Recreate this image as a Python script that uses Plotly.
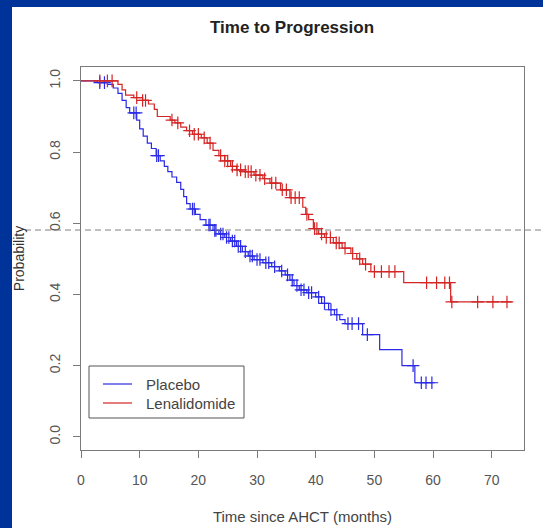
import plotly.graph_objects as go

# ---- data (months, survival probability) ----
len_time = [0, 6.3, 7.0, 7.6, 9.0, 10.5, 11.5, 12.5, 13.0, 15.2, 16.0, 17.0, 18.0, 19.0,
            20.5, 21.5, 22.5, 23.5, 24.5, 25.5, 26.5, 28.0, 29.5, 31.0, 32.2, 34.0, 35.6,
            37.8, 38.3, 38.8, 39.6, 40.5, 41.5, 43.0, 44.5, 46.0, 47.0, 48.0, 49.4, 55.0,
            63.0, 73.4]
len_surv = [1.0, 0.99, 0.975, 0.96, 0.953, 0.945, 0.935, 0.92, 0.90, 0.89, 0.882, 0.87, 0.86,
            0.85, 0.84, 0.825, 0.805, 0.79, 0.775, 0.76, 0.75, 0.745, 0.735, 0.725, 0.713,
            0.694, 0.672, 0.645, 0.625, 0.61, 0.585, 0.57, 0.56, 0.545, 0.53, 0.515, 0.50,
            0.485, 0.464, 0.433, 0.379, 0.379]
len_cens_time = [3.2, 4.5, 5.3, 9.5, 10.5, 11.0, 15.5, 16.5, 18.5, 19.3, 20.0, 21.0, 22.0,
                 23.8, 24.5, 25.0, 25.8, 26.6, 27.2, 28.0, 28.5, 29.0, 29.8, 30.5, 31.3,
                 32.5, 33.2, 34.3, 35.0, 35.8, 36.5, 37.2, 38.5, 39.8, 40.2, 41.0, 41.8,
                 42.5, 43.5, 44.0, 45.0, 46.3, 47.5, 48.5, 50.0, 51.2, 52.5, 53.5, 58.9,
                 60.6, 62.0, 62.8, 63.2, 67.6, 70.2, 72.6]
len_cens_surv = [1.0, 1.0, 1.0, 0.953, 0.945, 0.945, 0.89, 0.882, 0.86, 0.85, 0.85, 0.84,
                 0.825, 0.79, 0.775, 0.775, 0.76, 0.75, 0.75, 0.745, 0.745, 0.745, 0.735,
                 0.735, 0.725, 0.713, 0.713, 0.694, 0.694, 0.672, 0.672, 0.672, 0.625,
                 0.585, 0.585, 0.57, 0.56, 0.56, 0.545, 0.545, 0.53, 0.515, 0.50, 0.485,
                 0.464, 0.464, 0.464, 0.464, 0.433, 0.433, 0.433, 0.433, 0.379, 0.379,
                 0.379, 0.379]

pla_time = [0, 2.8, 4.5, 5.5, 6.3, 7.0, 7.7, 8.3, 9.5, 10.0, 10.6, 11.3, 12.0, 12.8, 13.5,
            14.2, 14.8, 15.5, 16.3, 17.0, 17.5, 18.0, 18.6, 19.5, 20.3, 21.3, 22.5, 23.5,
            24.5, 25.5, 26.5, 27.5, 28.5, 29.5, 31.0, 32.5, 33.8, 34.8, 35.6, 36.3, 37.2,
            38.5, 40.0, 41.0, 42.2, 43.2, 44.1, 45.0, 48.0, 50.9, 54.7, 56.9, 60.3]
pla_surv = [1.0, 0.995, 0.99, 0.98, 0.965, 0.945, 0.925, 0.91, 0.89, 0.865, 0.845, 0.825,
            0.81, 0.79, 0.775, 0.76, 0.745, 0.73, 0.715, 0.695, 0.675, 0.655, 0.64, 0.625,
            0.61, 0.595, 0.58, 0.57, 0.56, 0.55, 0.535, 0.52, 0.508, 0.498, 0.489, 0.478,
            0.466, 0.455, 0.44, 0.425, 0.413, 0.405, 0.393, 0.375, 0.357, 0.343, 0.329,
            0.318, 0.287, 0.245, 0.20, 0.152, 0.152]
pla_cens_time = [3.2, 4.0, 9.0, 9.4, 12.9, 13.2, 19.0, 19.3, 21.8, 22.0, 22.8, 23.0, 23.8,
                 24.2, 24.8, 25.2, 25.8, 26.2, 26.8, 27.2, 28.0, 28.8, 29.2, 30.0, 30.5,
                 31.5, 32.0, 33.0, 34.2, 35.2, 36.0, 36.8, 37.5, 38.0, 38.8, 39.3, 40.5,
                 41.5, 42.6, 43.6, 45.5, 46.2, 47.3, 48.8, 56.6, 58.0, 58.8, 59.8]
pla_cens_surv = [0.995, 0.995, 0.91, 0.91, 0.79, 0.79, 0.64, 0.64, 0.595, 0.595, 0.58, 0.58,
                 0.57, 0.57, 0.56, 0.56, 0.55, 0.55, 0.535, 0.535, 0.52, 0.508, 0.508, 0.498,
                 0.498, 0.489, 0.489, 0.478, 0.466, 0.455, 0.44, 0.425, 0.413, 0.413, 0.405,
                 0.405, 0.393, 0.375, 0.357, 0.343, 0.318, 0.318, 0.318, 0.287, 0.20, 0.152,
                 0.152, 0.152]

series_names = ["Placebo", "Lenalidomide"]
median_line = 0.581
x_ticks = [0, 10, 20, 30, 40, 50, 60, 70]
y_ticks = [0.0, 0.2, 0.4, 0.6, 0.8, 1.0]

BLUE = "#2a2ae6"
RED = "#d42424"
FONT = "Liberation Sans, Arial, sans-serif"

fig = go.Figure()
fig.add_trace(go.Scatter(x=pla_time, y=pla_surv, mode="lines", name=series_names[0],
                         showlegend=False, line=dict(color=BLUE, width=1.2, shape="hv")))
fig.add_trace(go.Scatter(x=len_time, y=len_surv, mode="lines", name=series_names[1],
                         showlegend=False, line=dict(color=RED, width=1.2, shape="hv")))
fig.add_trace(go.Scatter(x=pla_cens_time, y=pla_cens_surv, mode="markers", showlegend=False,
                         name=series_names[0] + " censored",
                         marker=dict(symbol="cross-thin", size=9, color=BLUE,
                                     line=dict(width=1.2, color=BLUE))))
fig.add_trace(go.Scatter(x=len_cens_time, y=len_cens_surv, mode="markers", showlegend=False,
                         name=series_names[1] + " censored",
                         marker=dict(symbol="cross-thin", size=9, color=RED,
                                     line=dict(width=1.2, color=RED))))

W, H = 543, 528
L, R, T, B = 81, 19, 67, 78
pw, ph = W - L - R, H - T - B

def px_x(p):
    return (p - L) / pw

def px_y(p):
    return (H - B - p) / ph

shapes = [
    dict(type="rect", xref="paper", yref="paper", x0=px_x(0), x1=px_x(12), y0=px_y(H), y1=px_y(0),
         fillcolor="#003399", line=dict(width=0), layer="below"),
    dict(type="rect", xref="paper", yref="paper", x0=px_x(0), x1=px_x(W), y0=px_y(7), y1=px_y(0),
         fillcolor="#003399", line=dict(width=0), layer="below"),
    dict(type="line", xref="paper", yref="y", x0=px_x(25), x1=px_x(W), y0=median_line, y1=median_line,
         line=dict(color="#808080", width=1, dash="6px,4px")),
    # legend box
    dict(type="rect", xref="paper", yref="paper", x0=px_x(89), x1=px_x(244), y0=px_y(418), y1=px_y(366),
         fillcolor="white", line=dict(color="#555555", width=1)),
    dict(type="line", xref="paper", yref="paper", x0=px_x(103), x1=px_x(132), y0=px_y(384), y1=px_y(384),
         line=dict(color=BLUE, width=1.2)),
    dict(type="line", xref="paper", yref="paper", x0=px_x(103), x1=px_x(132), y0=px_y(403), y1=px_y(403),
         line=dict(color=RED, width=1.2)),
]

annotations = [
    dict(text=series_names[0], xref="paper", yref="paper", x=px_x(144), y=px_y(384),
         xanchor="left", yanchor="middle", showarrow=False,
         font=dict(family=FONT, size=15, color="#444444")),
    dict(text=series_names[1], xref="paper", yref="paper", x=px_x(144), y=px_y(403),
         xanchor="left", yanchor="middle", showarrow=False,
         font=dict(family=FONT, size=15, color="#444444")),
]

axis_common = dict(showline=True, linecolor="#7a7a7a", linewidth=1, mirror=True,
                   ticks="outside", ticklen=7, tickcolor="#7a7a7a", tickwidth=1,
                   showgrid=False, zeroline=False, automargin=False,
                   tickfont=dict(family=FONT, size=14, color="#555555"))

fig.update_layout(
    width=W, height=H,
    margin=dict(l=L, r=R, t=T, b=B),
    paper_bgcolor="white", plot_bgcolor="white",
    title=dict(text="<b>Time to Progression</b>", x=292 / W, xanchor="center",
               y=1 - 27 / H, yanchor="middle", yref="container",
               font=dict(family=FONT, size=17, color="#222222")),
    xaxis=dict(range=[0, 75.5], tickvals=x_ticks, ticktext=[str(v) for v in x_ticks],
               title=dict(text="Time since AHCT (months)", standoff=24,
                          font=dict(family=FONT, size=15, color="#444444")),
               ticklabelstandoff=10, **axis_common),
    yaxis=dict(range=[-0.037, 1.039], tickvals=y_ticks, ticktext=[f"{v:.1f}" for v in y_ticks],
               tickangle=-90, ticklabelstandoff=7,
               title=dict(text="Probability", standoff=19,
                          font=dict(family=FONT, size=14, color="#333333")),
               **axis_common),
    shapes=shapes,
    annotations=annotations,
    showlegend=False,
)

fig.write_html("out.html", config={"displayModeBar": False},
               post_script="document.body.style.margin='0';")
